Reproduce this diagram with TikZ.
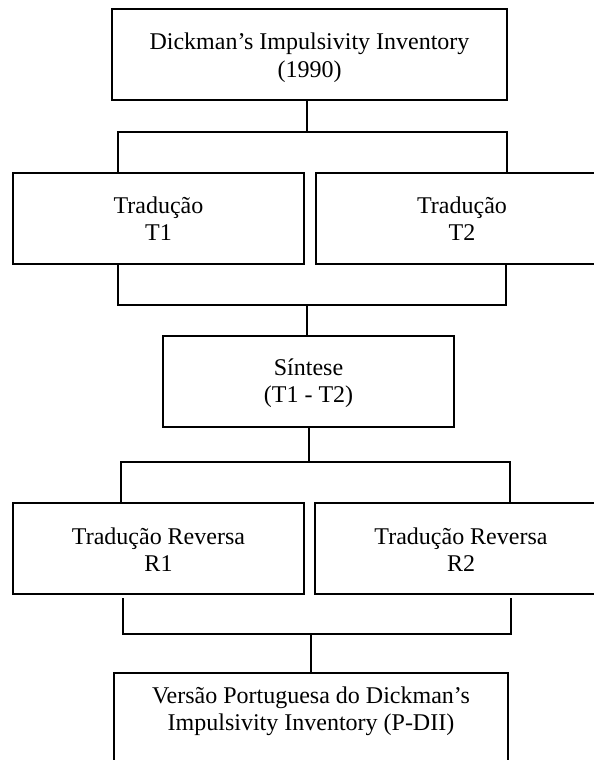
\documentclass[tikz,border=0pt]{standalone}
\usepackage{fontspec}
\setmainfont{Liberation Serif}
\begin{document}
\begin{tikzpicture}[x=1pt,y=-1pt,line width=2pt,
  box/.style={draw=black,rectangle,inner sep=0pt,outer sep=0pt},
  txt/.style={align=center,anchor=base,inner sep=0pt,outer sep=0pt,
    font=\fontsize{24}{27.5}\selectfont}]
\useasboundingbox (0,0) rectangle (594,760);
\clip (0,0) rectangle (594,760);
% boxes
\node[box,minimum width=395pt,minimum height=91pt] (b1) at (309.5,54.5) {};
\node[box,minimum width=291pt,minimum height=91pt] (t1) at (158.5,218.5) {};
\node[box,minimum width=292pt,minimum height=91pt] (t2) at (462,218.5) {};
\node[box,minimum width=291pt,minimum height=91pt] (syn) at (308.5,381.5) {};
\node[box,minimum width=291pt,minimum height=91pt] (r1) at (158.5,548.5) {};
\node[box,minimum width=292pt,minimum height=91pt] (r2) at (461,548.5) {};
\node[box,minimum width=394pt,minimum height=110pt] (fin) at (311,728) {};
% texts (base anchor = baseline of the last line)
\node[txt,yshift=-68.5pt] (b1t) at (b1.north) {Dickman’s Impulsivity Inventory\\(1990)};
\node[txt,yshift=-67.5pt] (t1t) at (t1.north) {Tradução\\T1};
\node[txt,yshift=-67.5pt] (t2t) at (t2.north) {Tradução\\T2};
\node[txt,yshift=-66.5pt] (synt) at (syn.north) {Síntese\\(T1 - T2)};
\node[txt,yshift=-68.5pt] (r1t) at (r1.north) {Tradução Reversa\\R1};
\node[txt,yshift=-68.5pt] (r2t) at (r2.north) {Tradução Reversa\\R2};
\node[txt,yshift=-57.5pt] (fint) at (fin.north) {Versão Portuguesa do Dickman’s\\Impulsivity Inventory (P-DII)};
% junctions
\coordinate (j1l) at (118,132);
\coordinate (j1c) at (307,132);
\coordinate (j1r) at (507,132);
\coordinate (j2l) at (118,305);
\coordinate (j2c) at (307,305);
\coordinate (j2r) at (506,305);
\coordinate (j3l) at (121,462);
\coordinate (j3c) at (309,462);
\coordinate (j3r) at (510,462);
\coordinate (j4l) at (123,634);
\coordinate (j4c) at (311,634);
\coordinate (j4r) at (511,634);
% connectors
\draw (b1.south -| j1c) -- (j1c);
\draw (t1.north -| j1l) -- (j1l) -- (j1r) -- (t2.north -| j1r);
\draw (t1.south -| j2l) -- (j2l) -- (j2r) -- (t2.south -| j2r);
\draw (syn.north -| j2c) -- (j2c);
\draw (syn.south -| j3c) -- (j3c);
\draw (r1.north -| j3l) -- (j3l) -- (j3r) -- (r2.north -| j3r);
\draw[shorten <=4pt,shorten >=4pt] (r1.south -| j4l) -- (j4l) -- (j4r) -- (r2.south -| j4r);
\draw (fin.north -| j4c) -- (j4c);
\end{tikzpicture}
\end{document}
